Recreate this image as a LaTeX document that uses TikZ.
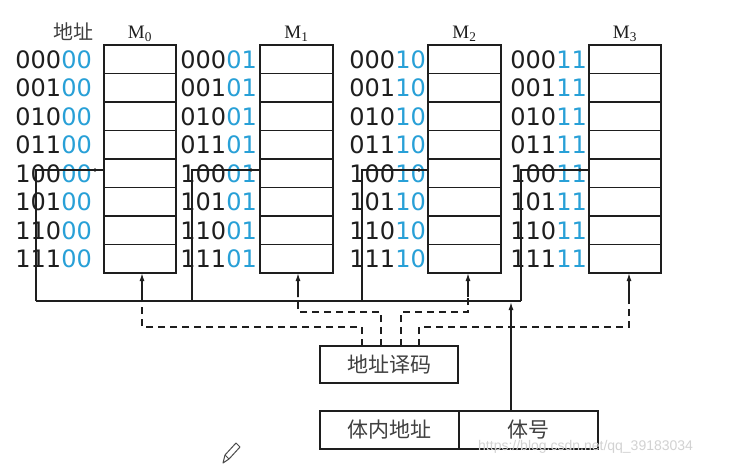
\documentclass[tikz,border=0pt]{standalone}
\usepackage{fontspec}
\setmainfont{Liberation Serif}
\newfontfamily\digitfont{DejaVu Sans}
\newfontfamily\cjk{Noto Sans CJK SC}
\newfontfamily\wmfont{Liberation Sans}
\usetikzlibrary{arrows.meta,calc}
\definecolor{addrblue}{RGB}{40,160,215}
\definecolor{ink}{RGB}{30,30,30}
\begin{document}
\begin{tikzpicture}[x=1pt,y=-1pt,
  modbox/.style={draw=ink, line width=1.6pt, minimum width=72pt, minimum height=228pt, anchor=north west, inner sep=0pt, outer sep=0pt},
  addr/.style={font=\digitfont\fontsize{24}{24}\selectfont, anchor=east, inner sep=0pt, text=ink},
  mlabel/.style={font=\fontsize{19}{19}\selectfont, anchor=base, inner sep=0pt, text=ink},
  cjkbox/.style={draw=ink, line width=1.5pt, font=\cjk\fontsize{21}{21}\selectfont, text=ink!85, minimum height=38pt, anchor=north west, inner sep=0pt, outer sep=0pt},
  bus/.style={draw=ink, line width=1.4pt},
  ctrl/.style={draw=ink, line width=1.4pt, dash pattern=on 7pt off 5pt},
  tip/.style={-{Latex[length=8pt,width=5pt]}}
]
\useasboundingbox (0,0) rectangle (729,468);
\fill[white] (0,0) rectangle (729,468);

% header
\node[font=\cjk\fontsize{20}{20}\selectfont, text=ink!85, inner sep=0pt] (hdr) at (73,32) {地址};

% modules
\foreach \j/\x/\bits/\gap/\vx/\ax/\w in {0/104/00/12/36/38/72, 1/260/01/3/192/38/73, 2/428/10/2/362/40/73, 3/589/11/2/521/40/72}{
  \node[modbox, minimum width=\w pt] (m\j) at (\x,45) {};
  \foreach \r in {1,...,7}{
    \draw[ink, line width=1.3pt] ($(m\j.north west)+(0,{28.5*\r})$) -- ($(m\j.north east)+(0,{28.5*\r})$);
  }
  \node[mlabel] (ml\j) at ($(m\j.north)+(0,-6)$) {M\textsubscript{\j}};
  \foreach \r/\hi in {0/000,1/001,2/010,3/011,4/100,5/101,6/110,7/111}{
    \node[addr] (a\j\r) at ($(m\j.north west)+(-\gap,{28.5*\r+14.5})$) {\hi\textcolor{addrblue}{\bits}};
  }
  \coordinate (v\j) at (\vx,301);
  \coordinate (e\j) at ($(m\j.south west)+(\ax,0)$);
  \draw[bus] (v\j) |- ($(m\j.north west)+(0,125)$);
  \fill[ink] ($(m\j.north west)+(-9,125)$) circle (1.8);
  \draw[bus,tip] ($(e\j)+(0,24)$) -- (e\j);
}
\draw[bus] (v0) -- (v3);

% decoder and address register
\node[cjkbox, minimum width=138pt, minimum height=37pt] (dec) at (320,346) {地址译码};
\node[cjkbox, minimum width=139pt] (inner) at (320,411) {体内地址};
\node[cjkbox, minimum width=139pt] (bank) at (459,411) {体号};

\coordinate (join) at (511,302);
\draw[bus,tip] ($(bank.north west)+(52,0)$) -- (join);

% dashed select lines
\draw[ctrl] ($(dec.north west)+(42,0)$) |- ($(e0)+(0,54)$) -- ($(e0)+(0,24)$);
\draw[ctrl] ($(dec.north west)+(61,0)$) |- ($(e1)+(0,39)$) -- ($(e1)+(0,24)$);
\draw[ctrl] ($(dec.north west)+(81,0)$) |- ($(e2)+(0,39)$) -- ($(e2)+(0,24)$);
\draw[ctrl] ($(dec.north west)+(99,0)$) |- ($(e3)+(0,54)$) -- ($(e3)+(0,24)$);

% watermark
\node[font=\wmfont\fontsize{14}{14}\selectfont, text=gray!35, anchor=west, inner sep=0pt] (wm) at (478,447) {https://blog.csdn.net/qq\_39183034};

% pencil icon
\draw[ink!80, line width=1pt, line join=round] (223,463) -- (225,455) -- (236,443) -- (240,447) -- (229,459) -- cycle;
\draw[ink!80, line width=1pt] (225,455) -- (229,459);
\end{tikzpicture}
\end{document}
